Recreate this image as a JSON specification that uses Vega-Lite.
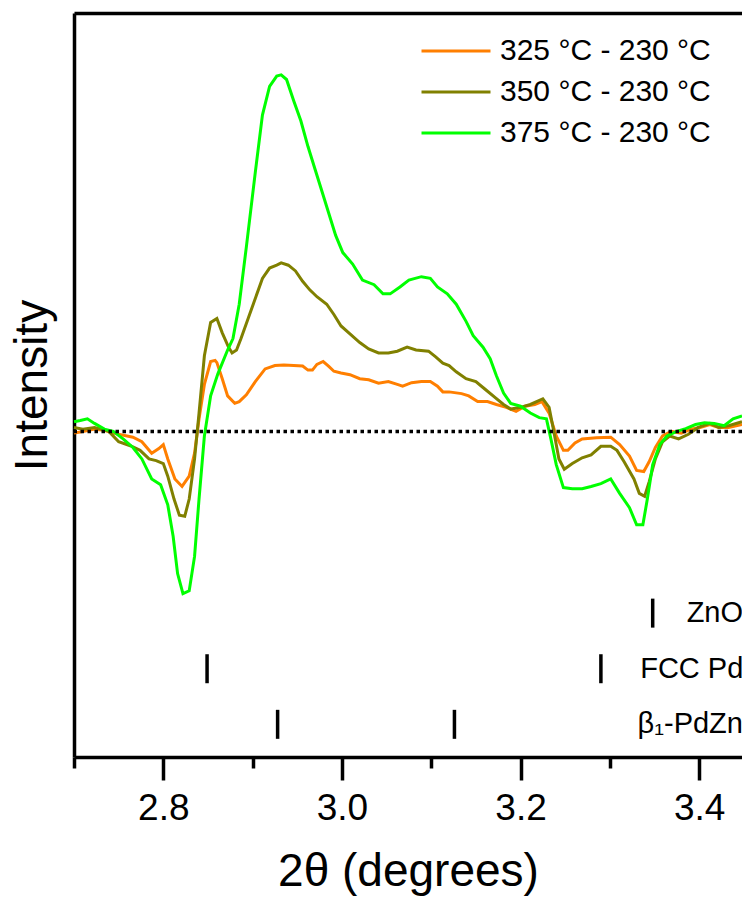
{
  "$schema": "https://vega.github.io/schema/vega-lite/v6.json",
  "width": 668,
  "height": 744,
  "autosize": {"type": "none"},
  "padding": {"left": 74, "top": 13, "right": 0, "bottom": 140},
  "config": {
    "view": {"stroke": null},
    "font": "Liberation Sans",
    "axis": {"grid": false, "domainColor": "black", "tickColor": "black", "labelColor": "black", "titleColor": "black", "titleFontWeight": "normal"}
  },
  "datasets": {
    "scans": [
      {"scan": "325 °C - 230 °C", "two_theta": 2.700, "intensity": -0.03},
      {"scan": "325 °C - 230 °C", "two_theta": 2.710, "intensity": 0.00},
      {"scan": "325 °C - 230 °C", "two_theta": 2.723, "intensity": 0.04},
      {"scan": "325 °C - 230 °C", "two_theta": 2.734, "intensity": 0.02},
      {"scan": "325 °C - 230 °C", "two_theta": 2.744, "intensity": -0.03},
      {"scan": "325 °C - 230 °C", "two_theta": 2.766, "intensity": -0.10},
      {"scan": "325 °C - 230 °C", "two_theta": 2.776, "intensity": -0.18},
      {"scan": "325 °C - 230 °C", "two_theta": 2.787, "intensity": -0.38},
      {"scan": "325 °C - 230 °C", "two_theta": 2.795, "intensity": -0.30},
      {"scan": "325 °C - 230 °C", "two_theta": 2.800, "intensity": -0.23},
      {"scan": "325 °C - 230 °C", "two_theta": 2.805, "intensity": -0.48},
      {"scan": "325 °C - 230 °C", "two_theta": 2.813, "intensity": -0.83},
      {"scan": "325 °C - 230 °C", "two_theta": 2.821, "intensity": -0.96},
      {"scan": "325 °C - 230 °C", "two_theta": 2.829, "intensity": -0.78},
      {"scan": "325 °C - 230 °C", "two_theta": 2.835, "intensity": -0.38},
      {"scan": "325 °C - 230 °C", "two_theta": 2.840, "intensity": 0.22},
      {"scan": "325 °C - 230 °C", "two_theta": 2.846, "intensity": 0.82},
      {"scan": "325 °C - 230 °C", "two_theta": 2.853, "intensity": 1.22},
      {"scan": "325 °C - 230 °C", "two_theta": 2.858, "intensity": 1.24},
      {"scan": "325 °C - 230 °C", "two_theta": 2.860, "intensity": 1.20},
      {"scan": "325 °C - 230 °C", "two_theta": 2.866, "intensity": 0.92},
      {"scan": "325 °C - 230 °C", "two_theta": 2.872, "intensity": 0.62},
      {"scan": "325 °C - 230 °C", "two_theta": 2.880, "intensity": 0.49},
      {"scan": "325 °C - 230 °C", "two_theta": 2.885, "intensity": 0.52},
      {"scan": "325 °C - 230 °C", "two_theta": 2.893, "intensity": 0.64},
      {"scan": "325 °C - 230 °C", "two_theta": 2.903, "intensity": 0.87},
      {"scan": "325 °C - 230 °C", "two_theta": 2.914, "intensity": 1.09},
      {"scan": "325 °C - 230 °C", "two_theta": 2.925, "intensity": 1.15},
      {"scan": "325 °C - 230 °C", "two_theta": 2.935, "intensity": 1.16},
      {"scan": "325 °C - 230 °C", "two_theta": 2.946, "intensity": 1.15},
      {"scan": "325 °C - 230 °C", "two_theta": 2.956, "intensity": 1.14},
      {"scan": "325 °C - 230 °C", "two_theta": 2.962, "intensity": 1.07},
      {"scan": "325 °C - 230 °C", "two_theta": 2.967, "intensity": 1.07},
      {"scan": "325 °C - 230 °C", "two_theta": 2.972, "intensity": 1.17},
      {"scan": "325 °C - 230 °C", "two_theta": 2.979, "intensity": 1.22},
      {"scan": "325 °C - 230 °C", "two_theta": 2.985, "intensity": 1.14},
      {"scan": "325 °C - 230 °C", "two_theta": 2.991, "intensity": 1.05},
      {"scan": "325 °C - 230 °C", "two_theta": 2.999, "intensity": 1.02},
      {"scan": "325 °C - 230 °C", "two_theta": 3.009, "intensity": 0.99},
      {"scan": "325 °C - 230 °C", "two_theta": 3.020, "intensity": 0.92},
      {"scan": "325 °C - 230 °C", "two_theta": 3.030, "intensity": 0.90},
      {"scan": "325 °C - 230 °C", "two_theta": 3.041, "intensity": 0.84},
      {"scan": "325 °C - 230 °C", "two_theta": 3.052, "intensity": 0.87},
      {"scan": "325 °C - 230 °C", "two_theta": 3.062, "intensity": 0.82},
      {"scan": "325 °C - 230 °C", "two_theta": 3.068, "intensity": 0.79},
      {"scan": "325 °C - 230 °C", "two_theta": 3.078, "intensity": 0.85},
      {"scan": "325 °C - 230 °C", "two_theta": 3.089, "intensity": 0.87},
      {"scan": "325 °C - 230 °C", "two_theta": 3.099, "intensity": 0.87},
      {"scan": "325 °C - 230 °C", "two_theta": 3.107, "intensity": 0.79},
      {"scan": "325 °C - 230 °C", "two_theta": 3.113, "intensity": 0.69},
      {"scan": "325 °C - 230 °C", "two_theta": 3.120, "intensity": 0.69},
      {"scan": "325 °C - 230 °C", "two_theta": 3.134, "intensity": 0.66},
      {"scan": "325 °C - 230 °C", "two_theta": 3.142, "intensity": 0.62},
      {"scan": "325 °C - 230 °C", "two_theta": 3.152, "intensity": 0.52},
      {"scan": "325 °C - 230 °C", "two_theta": 3.163, "intensity": 0.52},
      {"scan": "325 °C - 230 °C", "two_theta": 3.173, "intensity": 0.47},
      {"scan": "325 °C - 230 °C", "two_theta": 3.184, "intensity": 0.42},
      {"scan": "325 °C - 230 °C", "two_theta": 3.195, "intensity": 0.35},
      {"scan": "325 °C - 230 °C", "two_theta": 3.205, "intensity": 0.44},
      {"scan": "325 °C - 230 °C", "two_theta": 3.216, "intensity": 0.47},
      {"scan": "325 °C - 230 °C", "two_theta": 3.224, "intensity": 0.52},
      {"scan": "325 °C - 230 °C", "two_theta": 3.232, "intensity": 0.32},
      {"scan": "325 °C - 230 °C", "two_theta": 3.240, "intensity": -0.08},
      {"scan": "325 °C - 230 °C", "two_theta": 3.248, "intensity": -0.33},
      {"scan": "325 °C - 230 °C", "two_theta": 3.253, "intensity": -0.33},
      {"scan": "325 °C - 230 °C", "two_theta": 3.261, "intensity": -0.20},
      {"scan": "325 °C - 230 °C", "two_theta": 3.269, "intensity": -0.13},
      {"scan": "325 °C - 230 °C", "two_theta": 3.285, "intensity": -0.11},
      {"scan": "325 °C - 230 °C", "two_theta": 3.301, "intensity": -0.10},
      {"scan": "325 °C - 230 °C", "two_theta": 3.311, "intensity": -0.23},
      {"scan": "325 °C - 230 °C", "two_theta": 3.322, "intensity": -0.43},
      {"scan": "325 °C - 230 °C", "two_theta": 3.330, "intensity": -0.68},
      {"scan": "325 °C - 230 °C", "two_theta": 3.338, "intensity": -0.70},
      {"scan": "325 °C - 230 °C", "two_theta": 3.344, "intensity": -0.53},
      {"scan": "325 °C - 230 °C", "two_theta": 3.351, "intensity": -0.28},
      {"scan": "325 °C - 230 °C", "two_theta": 3.359, "intensity": -0.08},
      {"scan": "325 °C - 230 °C", "two_theta": 3.369, "intensity": 0.00},
      {"scan": "325 °C - 230 °C", "two_theta": 3.380, "intensity": -0.03},
      {"scan": "325 °C - 230 °C", "two_theta": 3.391, "intensity": 0.04},
      {"scan": "325 °C - 230 °C", "two_theta": 3.401, "intensity": 0.07},
      {"scan": "325 °C - 230 °C", "two_theta": 3.412, "intensity": 0.12},
      {"scan": "325 °C - 230 °C", "two_theta": 3.422, "intensity": 0.07},
      {"scan": "325 °C - 230 °C", "two_theta": 3.433, "intensity": 0.07},
      {"scan": "325 °C - 230 °C", "two_theta": 3.448, "intensity": 0.12},

      {"scan": "350 °C - 230 °C", "two_theta": 2.700, "intensity": 0.07},
      {"scan": "350 °C - 230 °C", "two_theta": 2.710, "intensity": 0.04},
      {"scan": "350 °C - 230 °C", "two_theta": 2.723, "intensity": 0.07},
      {"scan": "350 °C - 230 °C", "two_theta": 2.739, "intensity": 0.00},
      {"scan": "350 °C - 230 °C", "two_theta": 2.750, "intensity": -0.18},
      {"scan": "350 °C - 230 °C", "two_theta": 2.763, "intensity": -0.25},
      {"scan": "350 °C - 230 °C", "two_theta": 2.774, "intensity": -0.33},
      {"scan": "350 °C - 230 °C", "two_theta": 2.784, "intensity": -0.48},
      {"scan": "350 °C - 230 °C", "two_theta": 2.792, "intensity": -0.51},
      {"scan": "350 °C - 230 °C", "two_theta": 2.800, "intensity": -0.56},
      {"scan": "350 °C - 230 °C", "two_theta": 2.805, "intensity": -0.78},
      {"scan": "350 °C - 230 °C", "two_theta": 2.812, "intensity": -1.18},
      {"scan": "350 °C - 230 °C", "two_theta": 2.818, "intensity": -1.46},
      {"scan": "350 °C - 230 °C", "two_theta": 2.824, "intensity": -1.48},
      {"scan": "350 °C - 230 °C", "two_theta": 2.829, "intensity": -1.18},
      {"scan": "350 °C - 230 °C", "two_theta": 2.835, "intensity": -0.48},
      {"scan": "350 °C - 230 °C", "two_theta": 2.840, "intensity": 0.32},
      {"scan": "350 °C - 230 °C", "two_theta": 2.846, "intensity": 1.32},
      {"scan": "350 °C - 230 °C", "two_theta": 2.853, "intensity": 1.90},
      {"scan": "350 °C - 230 °C", "two_theta": 2.860, "intensity": 1.97},
      {"scan": "350 °C - 230 °C", "two_theta": 2.866, "intensity": 1.72},
      {"scan": "350 °C - 230 °C", "two_theta": 2.873, "intensity": 1.47},
      {"scan": "350 °C - 230 °C", "two_theta": 2.877, "intensity": 1.37},
      {"scan": "350 °C - 230 °C", "two_theta": 2.882, "intensity": 1.42},
      {"scan": "350 °C - 230 °C", "two_theta": 2.887, "intensity": 1.62},
      {"scan": "350 °C - 230 °C", "two_theta": 2.895, "intensity": 1.97},
      {"scan": "350 °C - 230 °C", "two_theta": 2.903, "intensity": 2.32},
      {"scan": "350 °C - 230 °C", "two_theta": 2.911, "intensity": 2.67},
      {"scan": "350 °C - 230 °C", "two_theta": 2.919, "intensity": 2.85},
      {"scan": "350 °C - 230 °C", "two_theta": 2.927, "intensity": 2.90},
      {"scan": "350 °C - 230 °C", "two_theta": 2.932, "intensity": 2.94},
      {"scan": "350 °C - 230 °C", "two_theta": 2.940, "intensity": 2.90},
      {"scan": "350 °C - 230 °C", "two_theta": 2.948, "intensity": 2.80},
      {"scan": "350 °C - 230 °C", "two_theta": 2.956, "intensity": 2.62},
      {"scan": "350 °C - 230 °C", "two_theta": 2.964, "intensity": 2.47},
      {"scan": "350 °C - 230 °C", "two_theta": 2.972, "intensity": 2.35},
      {"scan": "350 °C - 230 °C", "two_theta": 2.983, "intensity": 2.22},
      {"scan": "350 °C - 230 °C", "two_theta": 2.991, "intensity": 2.04},
      {"scan": "350 °C - 230 °C", "two_theta": 2.999, "intensity": 1.84},
      {"scan": "350 °C - 230 °C", "two_theta": 3.009, "intensity": 1.70},
      {"scan": "350 °C - 230 °C", "two_theta": 3.020, "intensity": 1.55},
      {"scan": "350 °C - 230 °C", "two_theta": 3.030, "intensity": 1.44},
      {"scan": "350 °C - 230 °C", "two_theta": 3.041, "intensity": 1.37},
      {"scan": "350 °C - 230 °C", "two_theta": 3.052, "intensity": 1.37},
      {"scan": "350 °C - 230 °C", "two_theta": 3.062, "intensity": 1.40},
      {"scan": "350 °C - 230 °C", "two_theta": 3.073, "intensity": 1.47},
      {"scan": "350 °C - 230 °C", "two_theta": 3.083, "intensity": 1.42},
      {"scan": "350 °C - 230 °C", "two_theta": 3.097, "intensity": 1.40},
      {"scan": "350 °C - 230 °C", "two_theta": 3.105, "intensity": 1.30},
      {"scan": "350 °C - 230 °C", "two_theta": 3.113, "intensity": 1.19},
      {"scan": "350 °C - 230 °C", "two_theta": 3.120, "intensity": 1.15},
      {"scan": "350 °C - 230 °C", "two_theta": 3.128, "intensity": 1.04},
      {"scan": "350 °C - 230 °C", "two_theta": 3.139, "intensity": 0.92},
      {"scan": "350 °C - 230 °C", "two_theta": 3.150, "intensity": 0.87},
      {"scan": "350 °C - 230 °C", "two_theta": 3.160, "intensity": 0.74},
      {"scan": "350 °C - 230 °C", "two_theta": 3.171, "intensity": 0.60},
      {"scan": "350 °C - 230 °C", "two_theta": 3.181, "intensity": 0.47},
      {"scan": "350 °C - 230 °C", "two_theta": 3.189, "intensity": 0.39},
      {"scan": "350 °C - 230 °C", "two_theta": 3.200, "intensity": 0.42},
      {"scan": "350 °C - 230 °C", "two_theta": 3.211, "intensity": 0.47},
      {"scan": "350 °C - 230 °C", "two_theta": 3.218, "intensity": 0.52},
      {"scan": "350 °C - 230 °C", "two_theta": 3.225, "intensity": 0.57},
      {"scan": "350 °C - 230 °C", "two_theta": 3.232, "intensity": 0.42},
      {"scan": "350 °C - 230 °C", "two_theta": 3.237, "intensity": 0.02},
      {"scan": "350 °C - 230 °C", "two_theta": 3.243, "intensity": -0.48},
      {"scan": "350 °C - 230 °C", "two_theta": 3.249, "intensity": -0.66},
      {"scan": "350 °C - 230 °C", "two_theta": 3.258, "intensity": -0.56},
      {"scan": "350 °C - 230 °C", "two_theta": 3.269, "intensity": -0.46},
      {"scan": "350 °C - 230 °C", "two_theta": 3.279, "intensity": -0.41},
      {"scan": "350 °C - 230 °C", "two_theta": 3.290, "intensity": -0.26},
      {"scan": "350 °C - 230 °C", "two_theta": 3.301, "intensity": -0.26},
      {"scan": "350 °C - 230 °C", "two_theta": 3.308, "intensity": -0.33},
      {"scan": "350 °C - 230 °C", "two_theta": 3.316, "intensity": -0.53},
      {"scan": "350 °C - 230 °C", "two_theta": 3.327, "intensity": -0.83},
      {"scan": "350 °C - 230 °C", "two_theta": 3.333, "intensity": -1.08},
      {"scan": "350 °C - 230 °C", "two_theta": 3.339, "intensity": -1.13},
      {"scan": "350 °C - 230 °C", "two_theta": 3.344, "intensity": -0.88},
      {"scan": "350 °C - 230 °C", "two_theta": 3.351, "intensity": -0.48},
      {"scan": "350 °C - 230 °C", "two_theta": 3.359, "intensity": -0.18},
      {"scan": "350 °C - 230 °C", "two_theta": 3.367, "intensity": -0.08},
      {"scan": "350 °C - 230 °C", "two_theta": 3.377, "intensity": -0.13},
      {"scan": "350 °C - 230 °C", "two_theta": 3.388, "intensity": -0.05},
      {"scan": "350 °C - 230 °C", "two_theta": 3.399, "intensity": 0.07},
      {"scan": "350 °C - 230 °C", "two_theta": 3.412, "intensity": 0.14},
      {"scan": "350 °C - 230 °C", "two_theta": 3.422, "intensity": 0.07},
      {"scan": "350 °C - 230 °C", "two_theta": 3.433, "intensity": 0.10},
      {"scan": "350 °C - 230 °C", "two_theta": 3.448, "intensity": 0.17},

      {"scan": "375 °C - 230 °C", "two_theta": 2.700, "intensity": 0.17},
      {"scan": "375 °C - 230 °C", "two_theta": 2.707, "intensity": 0.19},
      {"scan": "375 °C - 230 °C", "two_theta": 2.715, "intensity": 0.22},
      {"scan": "375 °C - 230 °C", "two_theta": 2.723, "intensity": 0.14},
      {"scan": "375 °C - 230 °C", "two_theta": 2.734, "intensity": 0.04},
      {"scan": "375 °C - 230 °C", "two_theta": 2.744, "intensity": 0.00},
      {"scan": "375 °C - 230 °C", "two_theta": 2.755, "intensity": -0.13},
      {"scan": "375 °C - 230 °C", "two_theta": 2.766, "intensity": -0.28},
      {"scan": "375 °C - 230 °C", "two_theta": 2.776, "intensity": -0.48},
      {"scan": "375 °C - 230 °C", "two_theta": 2.787, "intensity": -0.83},
      {"scan": "375 °C - 230 °C", "two_theta": 2.797, "intensity": -0.93},
      {"scan": "375 °C - 230 °C", "two_theta": 2.805, "intensity": -1.28},
      {"scan": "375 °C - 230 °C", "two_theta": 2.811, "intensity": -1.83},
      {"scan": "375 °C - 230 °C", "two_theta": 2.816, "intensity": -2.48},
      {"scan": "375 °C - 230 °C", "two_theta": 2.822, "intensity": -2.83},
      {"scan": "375 °C - 230 °C", "two_theta": 2.829, "intensity": -2.78},
      {"scan": "375 °C - 230 °C", "two_theta": 2.835, "intensity": -2.18},
      {"scan": "375 °C - 230 °C", "two_theta": 2.840, "intensity": -1.18},
      {"scan": "375 °C - 230 °C", "two_theta": 2.846, "intensity": -0.08},
      {"scan": "375 °C - 230 °C", "two_theta": 2.853, "intensity": 0.62},
      {"scan": "375 °C - 230 °C", "two_theta": 2.861, "intensity": 1.00},
      {"scan": "375 °C - 230 °C", "two_theta": 2.872, "intensity": 1.42},
      {"scan": "375 °C - 230 °C", "two_theta": 2.878, "intensity": 1.62},
      {"scan": "375 °C - 230 °C", "two_theta": 2.885, "intensity": 2.22},
      {"scan": "375 °C - 230 °C", "two_theta": 2.893, "intensity": 3.22},
      {"scan": "375 °C - 230 °C", "two_theta": 2.903, "intensity": 4.52},
      {"scan": "375 °C - 230 °C", "two_theta": 2.911, "intensity": 5.52},
      {"scan": "375 °C - 230 °C", "two_theta": 2.919, "intensity": 6.02},
      {"scan": "375 °C - 230 °C", "two_theta": 2.927, "intensity": 6.20},
      {"scan": "375 °C - 230 °C", "two_theta": 2.932, "intensity": 6.22},
      {"scan": "375 °C - 230 °C", "two_theta": 2.938, "intensity": 6.14},
      {"scan": "375 °C - 230 °C", "two_theta": 2.946, "intensity": 5.77},
      {"scan": "375 °C - 230 °C", "two_theta": 2.954, "intensity": 5.42},
      {"scan": "375 °C - 230 °C", "two_theta": 2.962, "intensity": 4.97},
      {"scan": "375 °C - 230 °C", "two_theta": 2.970, "intensity": 4.57},
      {"scan": "375 °C - 230 °C", "two_theta": 2.977, "intensity": 4.22},
      {"scan": "375 °C - 230 °C", "two_theta": 2.985, "intensity": 3.82},
      {"scan": "375 °C - 230 °C", "two_theta": 2.993, "intensity": 3.42},
      {"scan": "375 °C - 230 °C", "two_theta": 3.001, "intensity": 3.12},
      {"scan": "375 °C - 230 °C", "two_theta": 3.012, "intensity": 2.92},
      {"scan": "375 °C - 230 °C", "two_theta": 3.023, "intensity": 2.64},
      {"scan": "375 °C - 230 °C", "two_theta": 3.036, "intensity": 2.56},
      {"scan": "375 °C - 230 °C", "two_theta": 3.046, "intensity": 2.40},
      {"scan": "375 °C - 230 °C", "two_theta": 3.054, "intensity": 2.40},
      {"scan": "375 °C - 230 °C", "two_theta": 3.065, "intensity": 2.52},
      {"scan": "375 °C - 230 °C", "two_theta": 3.075, "intensity": 2.64},
      {"scan": "375 °C - 230 °C", "two_theta": 3.089, "intensity": 2.70},
      {"scan": "375 °C - 230 °C", "two_theta": 3.099, "intensity": 2.67},
      {"scan": "375 °C - 230 °C", "two_theta": 3.107, "intensity": 2.52},
      {"scan": "375 °C - 230 °C", "two_theta": 3.118, "intensity": 2.40},
      {"scan": "375 °C - 230 °C", "two_theta": 3.128, "intensity": 2.22},
      {"scan": "375 °C - 230 °C", "two_theta": 3.139, "intensity": 1.92},
      {"scan": "375 °C - 230 °C", "two_theta": 3.147, "intensity": 1.67},
      {"scan": "375 °C - 230 °C", "two_theta": 3.158, "intensity": 1.47},
      {"scan": "375 °C - 230 °C", "two_theta": 3.166, "intensity": 1.27},
      {"scan": "375 °C - 230 °C", "two_theta": 3.173, "intensity": 0.97},
      {"scan": "375 °C - 230 °C", "two_theta": 3.181, "intensity": 0.67},
      {"scan": "375 °C - 230 °C", "two_theta": 3.189, "intensity": 0.49},
      {"scan": "375 °C - 230 °C", "two_theta": 3.200, "intensity": 0.44},
      {"scan": "375 °C - 230 °C", "two_theta": 3.211, "intensity": 0.32},
      {"scan": "375 °C - 230 °C", "two_theta": 3.221, "intensity": 0.24},
      {"scan": "375 °C - 230 °C", "two_theta": 3.229, "intensity": 0.22},
      {"scan": "375 °C - 230 °C", "two_theta": 3.234, "intensity": -0.13},
      {"scan": "375 °C - 230 °C", "two_theta": 3.240, "intensity": -0.58},
      {"scan": "375 °C - 230 °C", "two_theta": 3.248, "intensity": -0.98},
      {"scan": "375 °C - 230 °C", "two_theta": 3.258, "intensity": -1.00},
      {"scan": "375 °C - 230 °C", "two_theta": 3.269, "intensity": -1.00},
      {"scan": "375 °C - 230 °C", "two_theta": 3.279, "intensity": -0.96},
      {"scan": "375 °C - 230 °C", "two_theta": 3.290, "intensity": -0.91},
      {"scan": "375 °C - 230 °C", "two_theta": 3.301, "intensity": -0.83},
      {"scan": "375 °C - 230 °C", "two_theta": 3.311, "intensity": -1.08},
      {"scan": "375 °C - 230 °C", "two_theta": 3.322, "intensity": -1.33},
      {"scan": "375 °C - 230 °C", "two_theta": 3.330, "intensity": -1.63},
      {"scan": "375 °C - 230 °C", "two_theta": 3.337, "intensity": -1.63},
      {"scan": "375 °C - 230 °C", "two_theta": 3.342, "intensity": -1.18},
      {"scan": "375 °C - 230 °C", "two_theta": 3.348, "intensity": -0.58},
      {"scan": "375 °C - 230 °C", "two_theta": 3.356, "intensity": -0.23},
      {"scan": "375 °C - 230 °C", "two_theta": 3.364, "intensity": -0.08},
      {"scan": "375 °C - 230 °C", "two_theta": 3.375, "intensity": 0.00},
      {"scan": "375 °C - 230 °C", "two_theta": 3.385, "intensity": 0.05},
      {"scan": "375 °C - 230 °C", "two_theta": 3.396, "intensity": 0.12},
      {"scan": "375 °C - 230 °C", "two_theta": 3.406, "intensity": 0.15},
      {"scan": "375 °C - 230 °C", "two_theta": 3.417, "intensity": 0.14},
      {"scan": "375 °C - 230 °C", "two_theta": 3.428, "intensity": 0.10},
      {"scan": "375 °C - 230 °C", "two_theta": 3.438, "intensity": 0.22},
      {"scan": "375 °C - 230 °C", "two_theta": 3.448, "intensity": 0.27}
    ],
    "reflections": [
      {"phase": "ZnO", "two_theta": 3.348, "row": -3.17},
      {"phase": "FCC Pd", "two_theta": 2.849, "row": -4.14},
      {"phase": "FCC Pd", "two_theta": 3.290, "row": -4.14},
      {"phase": "β₁-PdZn", "two_theta": 2.928, "row": -5.11},
      {"phase": "β₁-PdZn", "two_theta": 3.126, "row": -5.11}
    ],
    "phases": [
      {"phase": "ZnO", "label_at": 3.386, "row": -3.17},
      {"phase": "FCC Pd", "label_at": 3.334, "row": -4.14},
      {"phase": "β₁-PdZn", "label_at": 3.331, "row": -5.11}
    ],
    "baseline": [
      {"intensity": 0}
    ]
  },
  "layer": [
    {
      "data": {"name": "scans"},
      "mark": {"type": "line", "strokeWidth": 3},
      "encoding": {
        "x": {
          "field": "two_theta", "type": "quantitative",
          "scale": {"domain": [2.7, 3.448], "nice": false, "zero": false},
          "axis": {
            "orient": "bottom", "values": [2.8, 3.0, 3.2, 3.4], "format": ".1f",
            "title": "2θ (degrees)", "titleFontSize": 46, "titlePadding": 23,
            "labelFontSize": 37, "labelPadding": 10, "labelFlush": false,
            "tickSize": 23, "tickWidth": 3.5, "domainWidth": 3.5
          }
        },
        "y": {
          "field": "intensity", "type": "quantitative",
          "scale": {"domain": [-5.68, 7.30], "nice": false, "zero": false},
          "axis": {
            "orient": "left", "title": "Intensity", "titleFontSize": 46, "titlePadding": 18,
            "labels": false, "ticks": false, "domainWidth": 3.5
          }
        },
        "color": {
          "field": "scan", "type": "nominal",
          "scale": {"domain": ["325 °C - 230 °C", "350 °C - 230 °C", "375 °C - 230 °C"], "range": ["#FF7F00", "#808000", "#00FF00"]},
          "legend": {
            "title": null, "orient": "none", "legendX": 363, "legendY": 19,
            "symbolType": "M-2,0H2", "symbolSize": 1190, "symbolStrokeWidth": 3,
            "labelFontSize": 30, "labelOffset": 25, "labelColor": "black", "labelLimit": 0,
            "rowPadding": 7, "padding": 0
          }
        }
      }
    },
    {
      "data": {"name": "reflections"},
      "mark": {"type": "tick", "orient": "vertical", "size": 29, "thickness": 3.5, "color": "black", "opacity": 1},
      "encoding": {
        "x": {
          "field": "two_theta", "type": "quantitative",
          "axis": {
            "orient": "bottom", "values": [2.7, 2.9, 3.1, 3.3],
            "labels": false, "domain": false, "title": null,
            "tickSize": 11, "tickWidth": 3.5
          }
        },
        "y": {"field": "row", "type": "quantitative", "axis": null}
      }
    },
    {
      "data": {"name": "phases"},
      "mark": {"type": "text", "align": "left", "baseline": "middle", "fontSize": 29, "color": "black"},
      "encoding": {
        "x": {
          "field": "label_at", "type": "quantitative",
          "axis": {"orient": "top", "domainWidth": 3.5, "ticks": false, "labels": false, "title": null}
        },
        "y": {"field": "row", "type": "quantitative", "axis": null},
        "text": {"field": "phase"}
      }
    },
    {
      "data": {"name": "baseline"},
      "mark": {"type": "rule", "strokeWidth": 3.5, "strokeDash": [3.5, 3.5], "color": "black"},
      "encoding": {
        "y": {"field": "intensity", "type": "quantitative", "axis": null}
      }
    }
  ],
  "resolve": {"axis": {"x": "independent", "y": "independent"}}
}
